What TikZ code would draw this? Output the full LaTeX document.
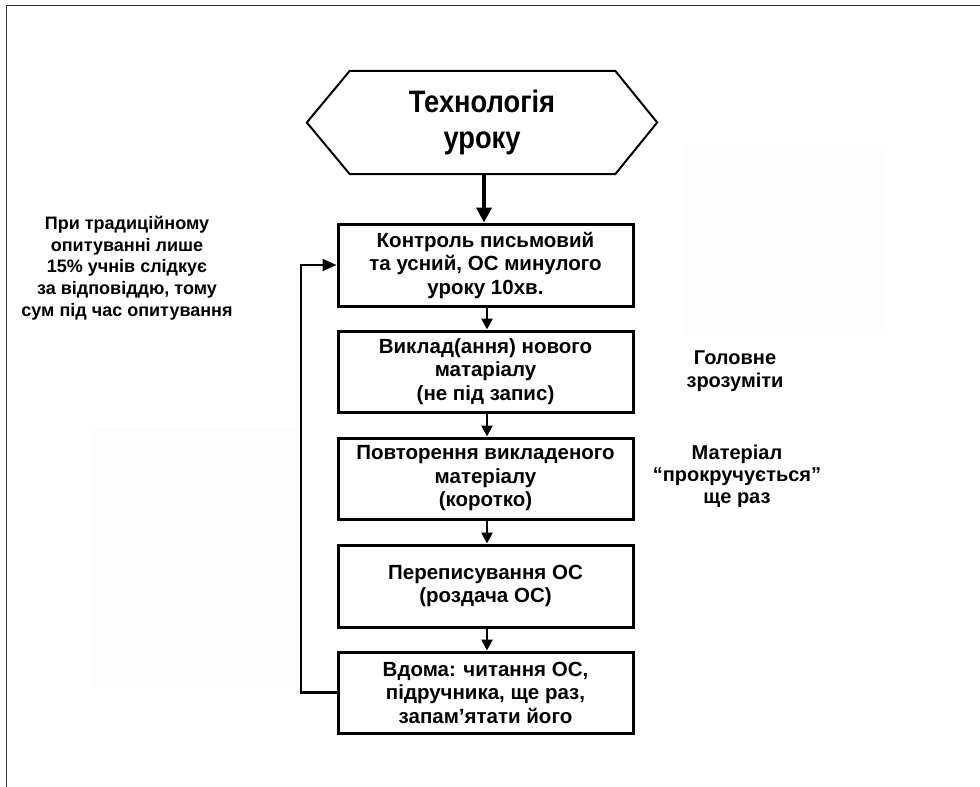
\documentclass[tikz,border=0pt]{standalone}
\usepackage{fontspec}
\setmainfont{Liberation Sans}
\newfontfamily\narrowfont[FakeStretch=0.88]{Liberation Sans}
\usetikzlibrary{arrows.meta,calc}
\begin{document}
\begin{tikzpicture}[x=1pt,y=-1pt,
  stepbox/.style={draw=black,line width=3pt,minimum width=295pt,minimum height=81pt,
    inner sep=0pt,align=center,font=\fontsize{20.5}{23.5}\selectfont\bfseries},
  note/.style={align=center,inner sep=0pt},
  flow/.style={line width=2.6pt,-{Triangle[length=11pt,width=11pt]}},
  faint/.style={fill=black!0.7,draw=none}]
\useasboundingbox (0,0) rectangle (980,787);
% page border
\draw[line width=1pt,black!80] (980,5) -- (6,5) -- (6,787);
% faint background patches
\fill[faint] (684,145) rectangle (886,335);
\fill[faint] (92,427) rectangle (298,686);
% hexagon title
\node (hex) [minimum width=350pt,minimum height=103pt,inner sep=0pt,align=center,
  font=\fontsize{31}{36}\selectfont\narrowfont\bfseries] at (482,122.5) {Технологія\\уроку};
\draw[line width=2pt,line join=miter]
  (hex.west) -- ($(hex.north west)+(43,0)$) -- ($(hex.north east)+(-42,0)$) -- (hex.east)
  -- ($(hex.south east)+(-42,0)$) -- ($(hex.south west)+(43,0)$) -- cycle;
% boxes
\node (b1) [stepbox,minimum height=82pt] at (485.5,265) {Контроль письмовий\\та усний, ОС минулого\\уроку 10хв.};
\node (b2) [stepbox] at (485.5,371.5) {Виклад(ання) нового\\матаріалу\\(не під запис)};
\node (b3) [stepbox] at (485.5,478.5) {Повторення викладеного\\матеріалу\\(коротко)};
\node (b4) [stepbox,minimum height=82pt] at (485.5,586) {Переписування ОС\\(роздача ОС)};
\node (b5) [stepbox] at (485.5,692.5) {Вдома: читання ОС,\\підручника, ще раз,\\запам’ятати його};
% notes
\node (left) [note,font=\fontsize{18}{21.6}\selectfont\bfseries] at (127,268)
  {При традиційному\\опитуванні лише\\15\% учнів слідкує\\за відповіддю, тому\\сум під час опитування};
\node (r1) [note,font=\fontsize{20}{23}\selectfont\bfseries] at (735,371.5) {Головне\\зрозуміти};
\node (r2) [note,font=\fontsize{20}{22}\selectfont\bfseries] at (737,476) {Матеріал\\“прокручується”\\ще раз};
% connectors
\draw[line width=4pt,-{Triangle[length=15pt,width=15pt]}] ([xshift=2pt]hex.south) -- ([xshift=2pt]hex.south |- b1.north);
\draw[flow] ([xshift=1.5pt]b1.south) -- ([xshift=1.5pt]b2.north);
\draw[flow] ([xshift=1.5pt]b2.south) -- ([xshift=1.5pt]b3.north);
\draw[flow] ([xshift=1.5pt]b3.south) -- ([xshift=1.5pt]b4.north);
\draw[flow] ([xshift=1.5pt]b4.south) -- ([xshift=1.5pt]b5.north);
\coordinate (loopx) at (301,0);
\draw[line width=2.2pt,-{Triangle[length=14pt,width=12pt]}] (b5.west) -| (loopx |- b1.west) -- (b1.west);
\end{tikzpicture}
\end{document}
